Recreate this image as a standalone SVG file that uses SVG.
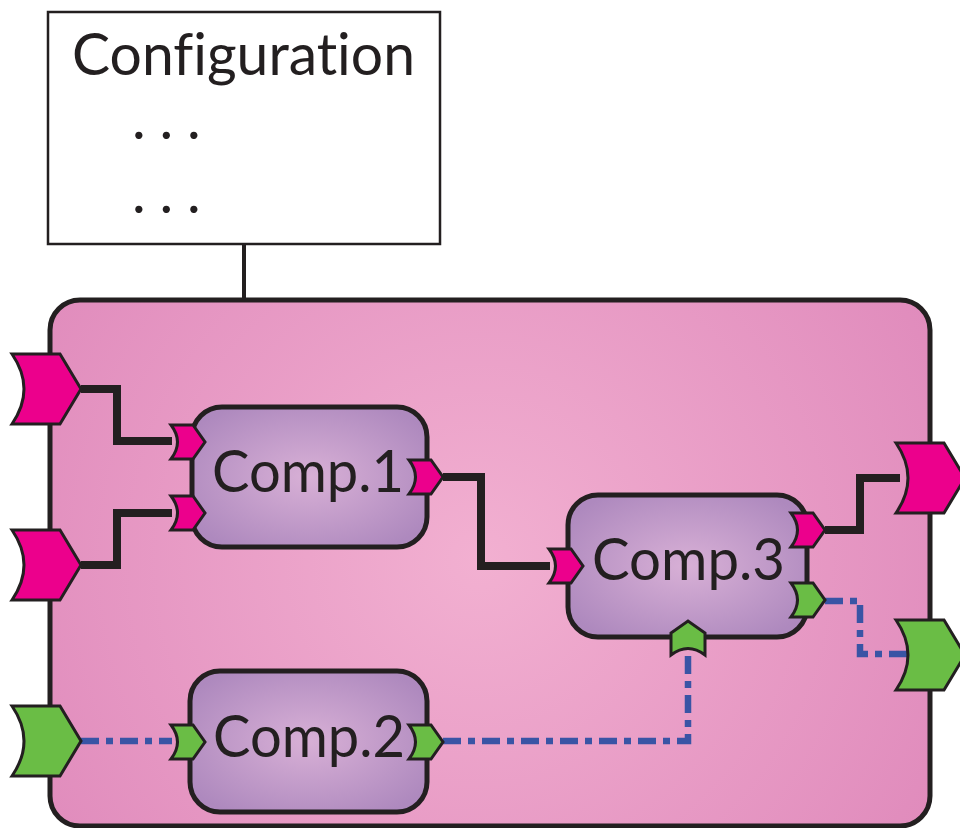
<svg xmlns="http://www.w3.org/2000/svg" xmlns:xlink="http://www.w3.org/1999/xlink" width="960" height="828" viewBox="0 0 960 828">
<style>
.lbl{font-family:Lato,"Open Sans","Liberation Sans",sans-serif;font-size:58px;fill:#231f20;font-variant-ligatures:none;font-feature-settings:"liga" 0}
.box{stroke:#231f20;stroke-width:5}
.port{stroke:#231f20;stroke-width:3;stroke-linejoin:miter}
.pink{fill:#ec008c}
.green{fill:#6abd45}
.wire{fill:none;stroke:#231f20;stroke-width:8;stroke-linejoin:miter}
.data{fill:none;stroke:#3954a5;stroke-width:6.5;stroke-dasharray:18 7 7 7}
</style>
<defs>
<radialGradient id="gOuter" cx="480" cy="560" r="520" gradientUnits="userSpaceOnUse">
<stop offset="0" stop-color="#f2b0d1"/>
<stop offset="1" stop-color="#e08bbc"/>
</radialGradient>
<radialGradient id="gComp" cx="0.5" cy="0.5" r="0.6">
<stop offset="0" stop-color="#d8b0d6"/>
<stop offset="1" stop-color="#ae89be"/>
</radialGradient>
<path id="sp" d="M-17,-17 L5,-17 L17,0 L5,17 L-17,17 Q-4,0 -17,-17 Z"/>
<path id="bp" d="M-34,-35 L14,-35 L35,0 L14,35 L-34,35 Q-10,0 -34,-35 Z"/>
</defs>

<g id="configuration">
<rect x="48" y="12" width="392" height="232" fill="#fff" stroke="#231f20" stroke-width="2.5"/>
<text class="lbl" x="72" y="75" textLength="343" lengthAdjust="spacingAndGlyphs">Conf<tspan>iguration</tspan></text>
<text class="lbl" x="132 159.5 187" y="139">...</text>
<text class="lbl" x="132 159.5 187" y="213">...</text>
</g>

<g id="system">
<rect x="50" y="300" width="880" height="526" rx="30" fill="url(#gOuter)" class="box"/>
</g>

<g id="connectors">
<line x1="244" y1="244" x2="244" y2="300" stroke="#231f20" stroke-width="4"/>
<polyline class="wire" points="81,389 117,389 117,441 172,441"/>
<polyline class="wire" points="81,565 117,565 117,513 172,513"/>
<polyline class="wire" points="443,477 481,477 481,566 550,566"/>
<polyline class="wire" points="825,530 860,530 860,478 900,478"/>
<polyline class="data" points="81,741 172,741"/>
<polyline class="data" points="443,741 688,741 688,655"/>
<polyline class="data" points="825,601 860,601 860,654 910,654"/>
</g>

<g id="comp1">
<rect x="192" y="407" width="235" height="140" rx="30" fill="url(#gComp)" class="box"/>
<text class="lbl" x="212" y="492" textLength="192" lengthAdjust="spacingAndGlyphs">Comp.1</text>
<use xlink:href="#sp" class="port pink" transform="translate(188,442)"/>
<use xlink:href="#sp" class="port pink" transform="translate(188,513)"/>
<use xlink:href="#sp" class="port pink" transform="translate(426,477)"/>
</g>

<g id="comp2">
<rect x="190" y="671" width="237" height="141" rx="30" fill="url(#gComp)" class="box"/>
<text class="lbl" x="213" y="757" textLength="192" lengthAdjust="spacingAndGlyphs">Comp.2</text>
<use xlink:href="#sp" class="port green" transform="translate(188,742)"/>
<use xlink:href="#sp" class="port green" transform="translate(426,742)"/>
</g>

<g id="comp3">
<rect x="568" y="495" width="239" height="142" rx="30" fill="url(#gComp)" class="box"/>
<text class="lbl" x="592" y="580" textLength="193" lengthAdjust="spacingAndGlyphs">Comp.3</text>
<use xlink:href="#sp" class="port pink" transform="translate(566,566)"/>
<use xlink:href="#sp" class="port pink" transform="translate(808,530)"/>
<use xlink:href="#sp" class="port green" transform="translate(808,600)"/>
<use xlink:href="#sp" class="port green" transform="translate(688,638) rotate(-90)"/>
</g>

<g id="ports">
<use xlink:href="#bp" class="port pink" transform="translate(46,389)"/>
<use xlink:href="#bp" class="port pink" transform="translate(46,565)"/>
<use xlink:href="#bp" class="port green" transform="translate(46,741)"/>
<use xlink:href="#bp" class="port pink" transform="translate(930,478)"/>
<use xlink:href="#bp" class="port green" transform="translate(930,655)"/>
</g>
</svg>
